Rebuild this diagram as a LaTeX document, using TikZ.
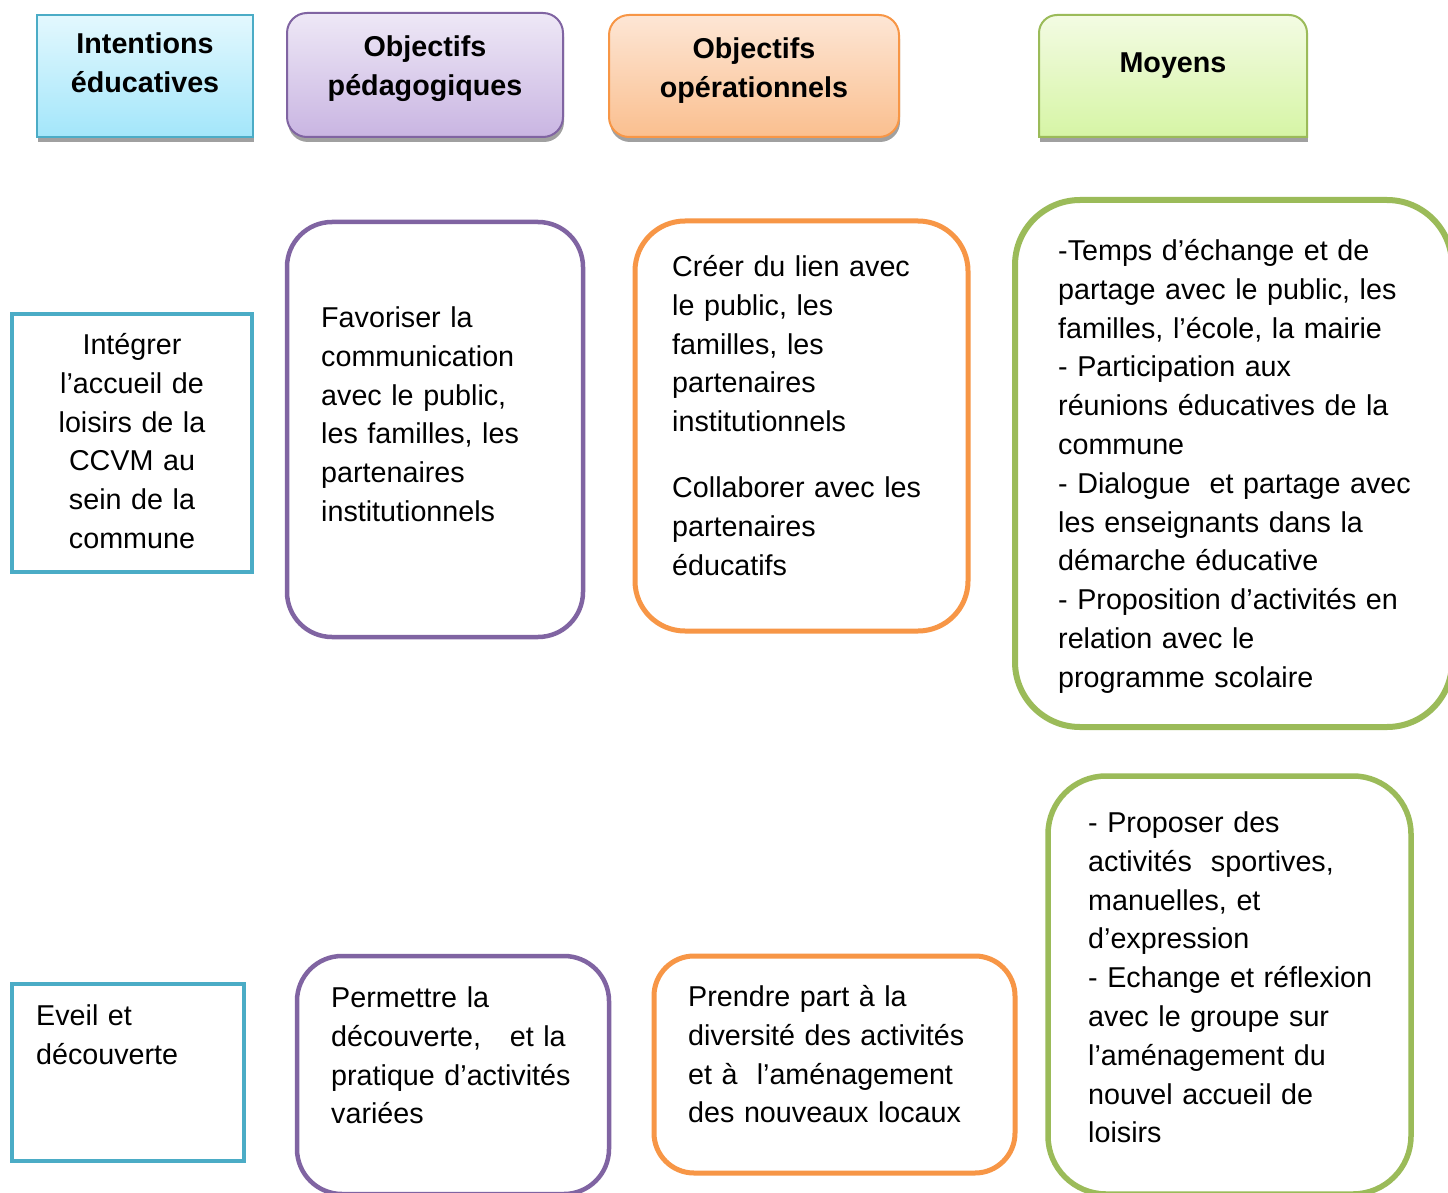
\documentclass[tikz,border=0pt]{standalone}
\usepackage{fontspec}
\setmainfont{Liberation Sans}
\definecolor{cyanB}{HTML}{4BACC6}
\definecolor{purpB}{HTML}{8064A2}
\definecolor{oranB}{HTML}{F79646}
\definecolor{greenB}{HTML}{9BBB59}
\definecolor{cyanT}{HTML}{E3F8FE}
\definecolor{cyanU}{HTML}{A3E6FA}
\definecolor{purpT}{HTML}{EEE8F6}
\definecolor{purpU}{HTML}{C9B5E2}
\definecolor{oranT}{HTML}{FDE6D5}
\definecolor{oranU}{HTML}{FABF8F}
\definecolor{greenT}{HTML}{F3FBE3}
\definecolor{greenU}{HTML}{D6F5A5}
\definecolor{shad}{HTML}{A0A0A0}
\tikzset{
  body/.style={font=\fontsize{28.7}{38.8}\selectfont, inner sep=0pt, text width=470pt, align=left, anchor=base west},
  bodyc/.style={font=\fontsize{28.7}{38.8}\selectfont, inner sep=0pt, text width=300pt, align=center, anchor=base},
  head/.style={font=\fontsize{28.7}{38.8}\selectfont\bfseries, inner sep=0pt, text width=300pt, align=center, anchor=base},
  hdr/.style={draw, line width=2pt},
}
\begin{document}
\begin{tikzpicture}[x=1pt,y=-1pt]
\useasboundingbox (0,0) rectangle (1448,1193);
\clip (0,0) rectangle (1448,1193);
\fill[white] (0,0) rectangle (1448,1193);
% header shadows
\fill[shad] (38,19) rectangle (254,142);
\fill[shad, rounded corners=20pt] (288,17) rectangle (564,142);
\fill[shad, rounded corners=20pt] (610,19) rectangle (900,142);
\fill[shad] (1040,40) rectangle (1308,142);
% headers
\path[hdr, draw=cyanB, top color=cyanT, bottom color=cyanU] (37,15) rectangle (253,137);
\path[hdr, draw=purpB, top color=purpT, bottom color=purpU, rounded corners=20pt] (287,13) rectangle (563,137);
\path[hdr, draw=oranB, top color=oranT, bottom color=oranU, rounded corners=20pt] (609,15) rectangle (899,137);
\path[hdr, draw=greenB, top color=greenT, bottom color=greenU] (1039,137) -- (1039,33) arc[start angle=180, end angle=270, radius=18] -- (1289,15) arc[start angle=270, end angle=360, radius=18] -- (1307,137) -- cycle;
\node[head] (h1) at (145,53.5) {Intentions\\éducatives};
\node[head] (h2) at (425,56.5) {Objectifs\\pédagogiques};
\node[head] (h3) at (754,58.5) {Objectifs\\opérationnels};
\node[head] (h4) at (1173,72.5) {Moyens};
% row 1 boxes
\draw[cyanB, line width=4pt] (12,314) rectangle (252,572);
\draw[purpB, line width=4.5pt, rounded corners=45pt] (287,222) rectangle (583,637);
\draw[oranB, line width=5pt, rounded corners=50pt] (635,221) rectangle (968,631);
\draw[greenB, line width=6pt, rounded corners=65pt] (1015,200) rectangle (1452,727);
\node[bodyc] (a1) at (132,354.5) {Intégrer\\l’accueil de\\loisirs de la\\CCVM au\\sein de la\\commune};
\node[body] (b1) at (321,327.5) {Favoriser la\\communication\\avec le public,\\les familles, les\\partenaires\\institutionnels};
\node[body] (c1) at (672,276.5) {Créer du lien avec\\le public, les\\familles, les\\partenaires\\institutionnels\\[27pt]Collaborer avec les\\partenaires\\éducatifs};
\node[body] (d1) at (1058,260.5) {-Temps d’échange et de\\partage avec le public, les\\familles, l’école, la mairie\\- Participation aux\\réunions éducatives de la\\commune\\- Dialogue\ \ et partage avec\\les enseignants dans la\\démarche éducative\\- Proposition d’activités en\\relation avec le\\programme scolaire};
% row 2 boxes
\draw[cyanB, line width=4pt] (12,984) rectangle (244,1161);
\draw[purpB, line width=4.5pt, rounded corners=45pt] (297,956) rectangle (609,1194);
\draw[oranB, line width=5pt, rounded corners=40pt] (654,956) rectangle (1015,1173);
\draw[greenB, line width=5.5pt, rounded corners=58pt] (1048,776) rectangle (1411,1194);
\node[body] (a2) at (36,1025.5) {Eveil et\\découverte};
\node[body] (b2) at (331,1007.5) {Permettre la\\découverte,\ \ \ et la\\pratique d’activités\\variées};
\node[body] (c2) at (688,1006.5) {Prendre part à la\\diversité des activités\\et à\ \ l’aménagement\\des nouveaux locaux};
\node[body] (d2) at (1088,832.5) {- Proposer des\\activités\ \ sportives,\\manuelles, et\\d’expression\\- Echange et réflexion\\avec le groupe sur\\l’aménagement du\\nouvel accueil de\\loisirs};
\end{tikzpicture}
\end{document}
